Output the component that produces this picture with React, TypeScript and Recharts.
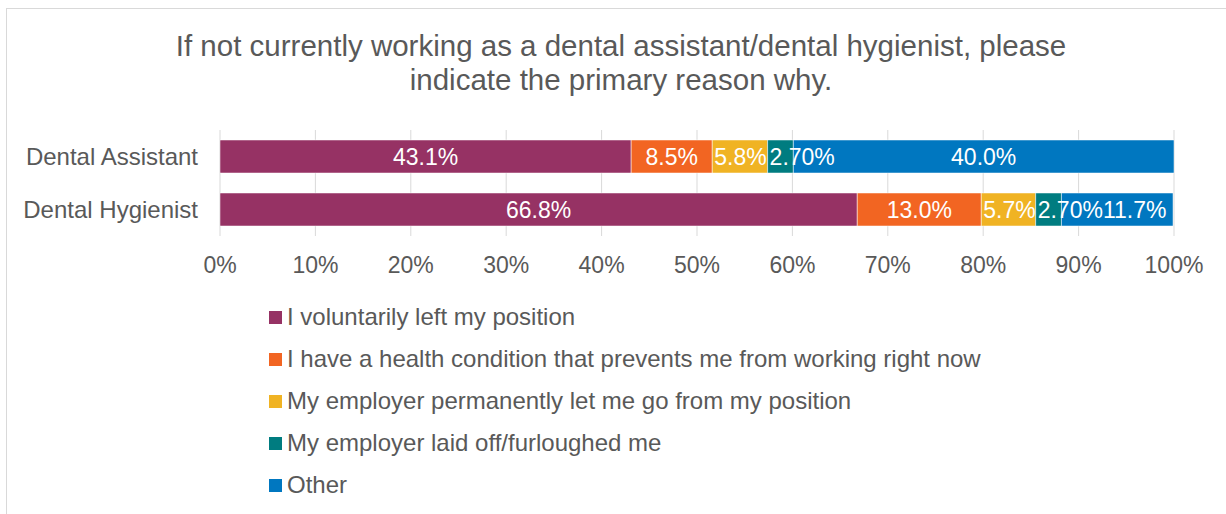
import { BarChart, Bar, XAxis, YAxis, CartesianGrid, Legend, LabelList } from 'recharts';

const categories = ['Dental Assistant', 'Dental Hygienist'];
const voluntarilyLeft = [43.1, 66.8];
const healthCondition = [8.5, 13.0];
const permanentlyLetGo = [5.8, 5.7];
const laidOff = [2.7, 2.7];
const other = [40.0, 11.7];
const xTicks = [0, 10, 20, 30, 40, 50, 60, 70, 80, 90, 100];

const series = [
  { key: 'voluntary', name: 'I voluntarily left my position', color: '#963264', values: voluntarilyLeft, decimals: 1 },
  { key: 'health', name: 'I have a health condition that prevents me from working right now', color: '#F26522', values: healthCondition, decimals: 1 },
  { key: 'letGo', name: 'My employer permanently let me go from my position', color: '#F0B323', values: permanentlyLetGo, decimals: 1 },
  { key: 'laidOff', name: 'My employer laid off/furloughed me', color: '#007C80', values: laidOff, decimals: 2 },
  { key: 'other', name: 'Other', color: '#0077C0', values: other, decimals: 1 },
];

const rows = categories.map((name, i) => {
  const row: Record<string, any> = { name };
  series.forEach((s) => {
    row[s.key] = s.values[i];
  });
  return row;
});

const FONT = '"Liberation Sans", Arial, sans-serif';
const TEXT = '#595959';
const LABEL_SIZE = 23;

let ctx: CanvasRenderingContext2D | null = null;
const textWidth = (s: string) => {
  if (!ctx) ctx = document.createElement('canvas').getContext('2d');
  if (!ctx) return s.length * LABEL_SIZE * 0.55;
  ctx.font = `${LABEL_SIZE}px ${FONT}`;
  return ctx.measureText(s).width;
};

const fmt = (k: number, v: number) => `${v.toFixed(series[k].decimals)}%`;

// centred in its segment, but pushed right when it would overlap the previous label
const SegmentLabel = (props: any) => {
  const vb = props.viewBox || {};
  const x = Number(props.x ?? vb.x);
  const y = Number(props.y ?? vb.y);
  const width = Number(props.width ?? vb.width);
  const height = Number(props.height ?? vb.height);
  const si = props.seriesIndex;
  const row = rows[props.index];
  if (!row || !width) return null;
  const vals = series.map((s) => row[s.key] as number);
  const ppu = width / vals[si];
  let start = x - vals.slice(0, si).reduce((a, b) => a + b, 0) * ppu;
  let prevEnd = -Infinity;
  let myLeft = x;
  for (let k = 0; k < vals.length; k++) {
    const segW = vals[k] * ppu;
    const w = textWidth(fmt(k, vals[k]));
    const left = Math.max(start + segW / 2 - w / 2, start + 2, prevEnd);
    if (k === si) myLeft = left;
    prevEnd = left + w;
    start += segW;
  }
  return (
    <text x={myLeft} y={y + height / 2} textAnchor="start" dominantBaseline="central" fill="#ffffff" fontSize={LABEL_SIZE}>
      {fmt(si, vals[si])}
    </text>
  );
};

const renderLegend = (props: any) => {
  const order = (v: string) => series.findIndex((s) => s.name === v);
  const payload = [...(props.payload || [])].sort((a: any, b: any) => order(a.value) - order(b.value));
  return (
    <div>
      {payload.map((p: any) => (
        <div key={p.value} style={{ display: 'flex', alignItems: 'center', height: 42 }}>
          <span style={{ width: 13, height: 13, background: p.color, marginRight: 5, flex: 'none' }} />
          <span style={{ fontSize: 24, color: TEXT, whiteSpace: 'nowrap' }}>{p.value}</span>
        </div>
      ))}
    </div>
  );
};

export default function App() {
  return (
    <div style={{ position: 'absolute', left: 0, top: 0, width: 1226, height: 514, overflow: 'hidden', background: '#fff', fontFamily: FONT }}>
      <div style={{ position: 'absolute', left: 6, top: 8, width: 1300, height: 600, border: '1.5px solid #d9d9d9' }} />
      <div style={{ position: 'absolute', left: 100, top: 29, width: 1042, textAlign: 'center', fontSize: 29.5, lineHeight: '34px', color: TEXT }}>
        If not currently working as a dental assistant/dental hygienist, please
        <br />
        indicate the primary reason why.
      </div>
      <div style={{ position: 'absolute', left: 0, top: 0 }}>
        <BarChart
          layout="vertical"
          width={1226}
          height={514}
          data={rows}
          barSize={33}
          margin={{ top: 130, right: 52, bottom: 28, left: 0 }}
        >
          <CartesianGrid horizontal={false} stroke="#d9d9d9" />
          <XAxis
            type="number"
            domain={[0, 100]}
            allowDataOverflow
            ticks={xTicks}
            tickFormatter={(v) => `${v}%`}
            axisLine={false}
            tickLine={false}
            height={40}
            tickMargin={15}
            tick={{ fontSize: 23, fill: TEXT }}
          />
          <YAxis
            type="category"
            dataKey="name"
            width={220}
            axisLine={false}
            tickLine={false}
            tickMargin={16}
            tick={{ fontSize: 24, fill: TEXT }}
          />
          <Legend
            layout="vertical"
            align="center"
            verticalAlign="bottom"
            content={renderLegend}
            wrapperStyle={{ left: 269, top: 296, width: 900, height: 210 }}
          />
          {series.map((s, i) => (
            <Bar key={s.key} dataKey={s.key} name={s.name} stackId="a" fill={s.color} stroke="#ffffff" strokeWidth={0.5} isAnimationActive={false}>
              <LabelList dataKey={s.key} content={(p: any) => <SegmentLabel {...p} seriesIndex={i} />} />
            </Bar>
          ))}
        </BarChart>
      </div>
    </div>
  );
}
